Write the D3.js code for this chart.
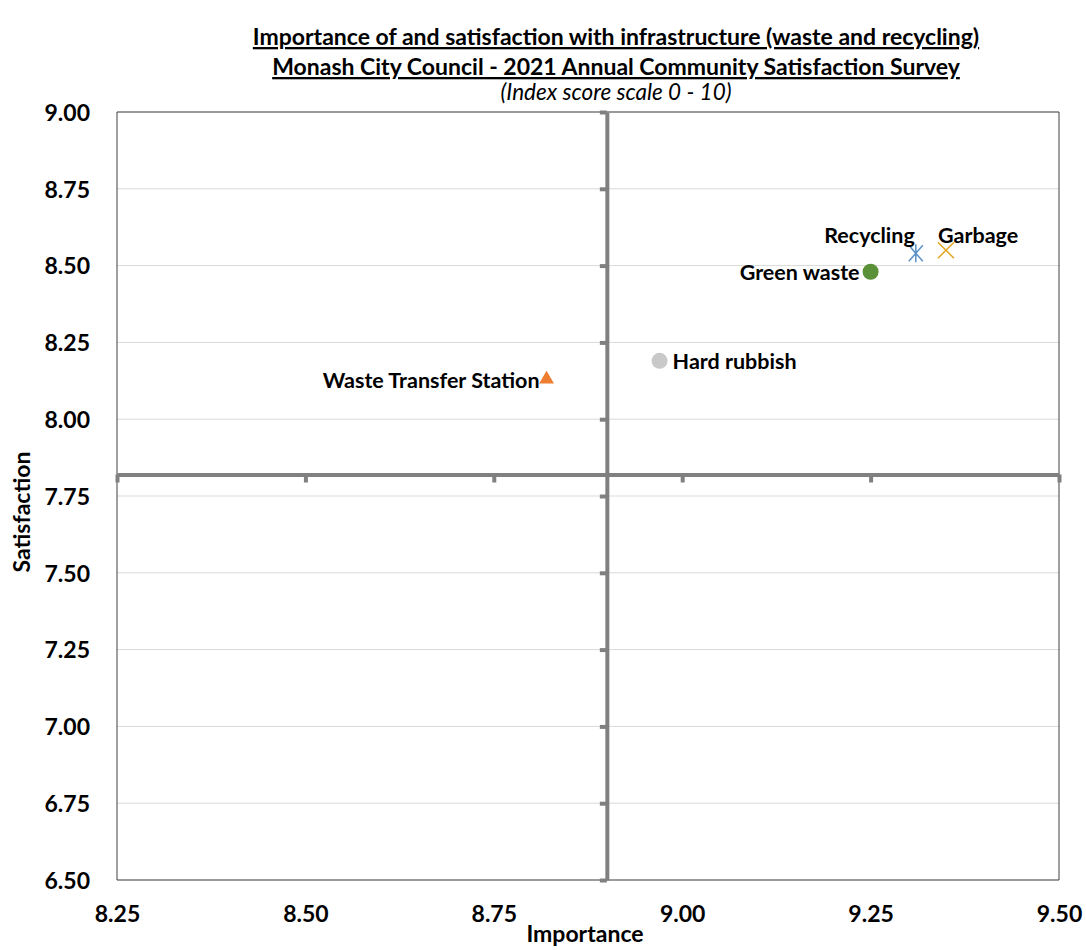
<!DOCTYPE html>
<html><head><meta charset="utf-8">
<script src="https://cdn.jsdelivr.net/npm/d3@7/dist/d3.min.js"></script>
<style>
body{margin:0;background:#fff;}
text{font-family:Lato,"Open Sans",sans-serif;}
</style></head>
<body><svg id="c" width="1086" height="950"></svg>
<script>
// ---- data ----
const services = ["Garbage","Recycling","Green waste","Hard rubbish","Waste Transfer Station"];
const importance = [9.35, 9.31, 9.25, 8.97, 8.82];
const satisfaction = [8.55, 8.54, 8.48, 8.19, 8.13];
const xTicks = [8.25, 8.50, 8.75, 9.00, 9.25, 9.50];
const yTicks = [6.50, 6.75, 7.00, 7.25, 7.50, 7.75, 8.00, 8.25, 8.50, 8.75, 9.00];
const crossImportance = 8.90;
const crossSatisfaction = 7.82;
const titleLines = ["Importance of and satisfaction with infrastructure (waste and recycling)",
                    "Monash City Council - 2021 Annual Community Satisfaction Survey"];
const subtitle = "(Index score scale 0 - 10)";
const xTitle = "Importance", yTitle = "Satisfaction";

// ---- style / layout ----
const markerStyle = {
  "Garbage": {shape:"x", color:"#E2A61E"},
  "Recycling": {shape:"asterisk", color:"#5B8FC7"},
  "Green waste": {shape:"circle", color:"#5A9038"},
  "Hard rubbish": {shape:"circle", color:"#C9C9C9"},
  "Waste Transfer Station": {shape:"triangle", color:"#ED7D31"}
};
const labelPlace = {
  "Garbage": {anchor:"start", dx:-8, dy:-15},
  "Recycling": {anchor:"end", dx:-1, dy:-18},
  "Green waste": {anchor:"end", dx:-11, dy:1},
  "Hard rubbish": {anchor:"start", dx:13, dy:1},
  "Waste Transfer Station": {anchor:"end", dx:-7, dy:1}
};
const M = {left:117, right:1059, top:112, bottom:880};
const svg = d3.select("#c");
const x = d3.scaleLinear().domain([8.25, 9.50]).range([M.left, M.right]);
const y = d3.scaleLinear().domain([6.50, 9.00]).range([M.bottom, M.top]);

// gridlines
svg.append("g").selectAll("line").data(yTicks).join("line")
  .attr("x1", M.left).attr("x2", M.right)
  .attr("y1", d=>y(d)).attr("y2", d=>y(d))
  .attr("stroke", "#D9D9D9").attr("stroke-width", 1);

// plot border
svg.append("line").attr("x1",M.left).attr("x2",M.right).attr("y1",M.top).attr("y2",M.top).attr("stroke","#808080").attr("stroke-width",1.5);
svg.append("line").attr("x1",M.left).attr("x2",M.right).attr("y1",M.bottom).attr("y2",M.bottom).attr("stroke","#808080").attr("stroke-width",1.5);
svg.append("line").attr("x1",M.left).attr("x2",M.left).attr("y1",M.top).attr("y2",M.bottom).attr("stroke","#404040").attr("stroke-width",1);
svg.append("line").attr("x1",M.right).attr("x2",M.right).attr("y1",M.top).attr("y2",M.bottom).attr("stroke","#404040").attr("stroke-width",1);

// crossing axes (thick gray lines with tick marks)
const xCross = svg.append("g").attr("transform", `translate(0,${y(crossSatisfaction)})`)
  .call(d3.axisBottom(x).tickValues(xTicks).tickSize(8).tickSizeOuter(0).tickFormat(""));
const yCross = svg.append("g").attr("transform", `translate(${x(crossImportance)},0)`)
  .call(d3.axisLeft(y).tickValues(yTicks).tickSize(7).tickSizeOuter(0).tickFormat(""));
[xCross, yCross].forEach(g=>{
  g.select(".domain").attr("stroke","#808080").attr("stroke-width",4);
  g.selectAll(".tick line").attr("stroke","#808080").attr("stroke-width",4);
});

// tick labels along outer edges
const xLab = svg.append("g").attr("transform", `translate(0,${M.bottom})`)
  .call(d3.axisBottom(x).tickValues(xTicks).tickSize(0).tickPadding(26).tickFormat(d3.format(".2f")));
const yLab = svg.append("g").attr("transform", `translate(${M.left},0)`)
  .call(d3.axisLeft(y).tickValues(yTicks).tickSize(0).tickPadding(27).tickFormat(d3.format(".2f")));
[xLab, yLab].forEach(g=>{
  g.select(".domain").remove();
  g.selectAll("text").attr("font-family","Lato").attr("font-weight","bold")
    .attr("font-size",23).attr("fill","#000");
});
yLab.selectAll("text").attr("dy","0.36em");

// titles
svg.append("text").attr("x", 616).attr("y", 45).attr("text-anchor","middle")
  .attr("font-weight","bold").attr("font-size",23).attr("text-decoration","underline").text(titleLines[0]);
svg.append("text").attr("x", 616).attr("y", 75).attr("text-anchor","middle")
  .attr("font-weight","bold").attr("font-size",23).attr("text-decoration","underline").text(titleLines[1]);
svg.append("text").attr("x", 616).attr("y", 100).attr("text-anchor","middle")
  .attr("font-style","italic").attr("font-size",22.5).text(subtitle);

svg.append("text").attr("x", 585).attr("y", 942).attr("text-anchor","middle")
  .attr("font-weight","bold").attr("font-size",23).text(xTitle);
svg.append("text").attr("transform", `translate(30,512) rotate(-90)`).attr("text-anchor","middle")
  .attr("font-weight","bold").attr("font-size",23).text(yTitle);

// points
const pts = services.map((s,i)=>({name:s, imp:importance[i], sat:satisfaction[i]}));
const pg = svg.append("g").selectAll("g").data(pts).join("g")
  .attr("transform", d=>`translate(${x(d.imp)},${y(d.sat)})`);
pg.each(function(d){
  const g = d3.select(this), st = markerStyle[d.name];
  if (st.shape === "circle") {
    g.append("circle").attr("r", 8).attr("fill", st.color);
  } else if (st.shape === "triangle") {
    g.append("path").attr("d", d3.symbol(d3.symbolTriangle, 95)()).attr("fill", st.color);
  } else if (st.shape === "x") {
    g.append("path").attr("d","M-8,-8L8,8M-8,8L8,-8").attr("stroke", st.color).attr("stroke-width",1.5).attr("fill","none");
  } else if (st.shape === "asterisk") {
    g.append("path").attr("d","M-7,-8L7,8M-7,8L7,-8M0,-9L0,9").attr("stroke", st.color).attr("stroke-width",1.5).attr("fill","none");
  }
  const lp = labelPlace[d.name];
  g.append("text").attr("x", lp.dx).attr("y", lp.dy).attr("dy","0.35em")
    .attr("text-anchor", lp.anchor).attr("font-weight","bold").attr("font-size",21.5)
    .attr("fill","#000").text(d.name);
});
</script></body></html>
